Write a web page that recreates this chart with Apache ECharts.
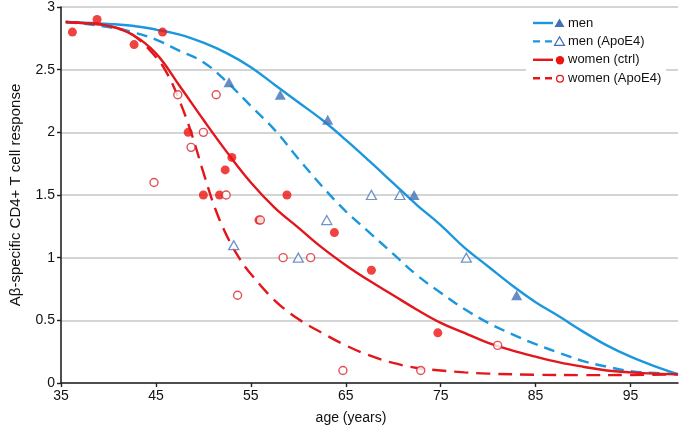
<!DOCTYPE html>
<html>
<head>
<meta charset="utf-8">
<style>html,body{margin:0;padding:0;background:#fff}#c{width:685px;height:427px}</style>
<script src="https://cdn.jsdelivr.net/npm/echarts@6/dist/echarts.min.js"></script>
</head>
<body>
<div id="c"></div>
<script>
// ---- data ----
const xTicks = [35, 45, 55, 65, 75, 85, 95];
const yTicks = [0, 0.5, 1, 1.5, 2, 2.5, 3];
const legendNames = ['men', 'men (ApoE4)', 'women (ctrl)', 'women (ApoE4)'];

const menPts = [[52.7,2.4],[58.1,2.3],[63.1,2.1],[72.2,1.5],[83.0,0.7]];
const menApoPts = [[53.2,1.1],[60.0,1.0],[63.0,1.3],[67.7,1.5],[70.7,1.5],[77.7,1.0]];
const womenPts = [[36.2,2.8],[38.8,2.9],[42.7,2.7],[45.7,2.8],[48.4,2.0],[50.0,1.5],[51.7,1.5],[52.3,1.7],[53.0,1.8],[55.85,1.3],[58.8,1.5],[63.8,1.2],[67.7,0.9],[74.7,0.4]];
const womenApoPts = [[44.8,1.6],[47.3,2.3],[48.7,1.88],[50.0,2.0],[51.35,2.3],[52.4,1.5],[53.6,0.7],[56.0,1.3],[58.4,1.0],[61.3,1.0],[64.7,0.1],[72.9,0.1],[81.0,0.3]];

// fitted curves, values
const menCurve = [[35.5,2.88],[37.5,2.875],[40,2.865],[42.5,2.85],[45,2.82],[47.5,2.78],[50,2.715],[52.5,2.63],[55,2.52],[57.5,2.38],[60,2.24],[62.5,2.1],[65,1.94],[67.5,1.77],[70,1.595],[72.5,1.42],[75,1.26],[77.5,1.08],[80,0.93],[82.5,0.78],[85,0.645],[87.5,0.53],[90,0.41],[92.5,0.3],[95,0.21],[97.5,0.135],[100,0.07]];
const menApoCurve = [[35.5,2.88],[37.5,2.865],[40,2.84],[42.5,2.8],[45,2.74],[47.5,2.65],[50,2.56],[52.5,2.4],[55,2.21],[57.5,2.02],[60,1.79],[62.5,1.57],[65,1.37],[67.5,1.2],[70,1.03],[72.5,0.86],[75,0.72],[77.5,0.59],[80,0.48],[82.5,0.39],[85,0.31],[87.5,0.24],[90,0.175],[92.5,0.13],[95,0.095],[97.5,0.08],[100,0.07]];
const womenCurve = [[35.5,2.88],[37.5,2.87],[40,2.85],[42.5,2.78],[45,2.63],[47.5,2.37],[50,2.1],[52.5,1.84],[55,1.6],[57.5,1.4],[60,1.24],[62.5,1.08],[65,0.94],[67.5,0.815],[70,0.7],[72.5,0.585],[75,0.48],[77.5,0.4],[80,0.32],[82.5,0.26],[85,0.21],[87.5,0.165],[90,0.13],[92.5,0.1],[95,0.085],[97.5,0.075],[100,0.07]];
const womenApoCurve = [[35.5,2.88],[37.5,2.87],[40,2.85],[42.5,2.78],[45,2.6],[46.25,2.46],[47.5,2.25],[48.75,1.99],[50,1.68],[51.25,1.39],[52.5,1.17],[53.75,1.0],[55,0.87],[57.5,0.66],[60,0.51],[62.5,0.4],[65,0.3],[67.5,0.22],[70,0.16],[72.5,0.12],[75,0.1],[77.5,0.085],[80,0.075],[85,0.066],[90,0.063],[95,0.064],[100,0.07]];

// ---- styles ----
const BLUE = '#1b97de', TRI = '#4170b8', RED = '#e3161c', DOT = '#ee1313';
const FONT = 'Liberation Sans, Arial, Helvetica, sans-serif';
const TRIANGLE = 'path://M0,10 L5.774,0 L11.547,10 Z';

const chart = echarts.init(document.getElementById('c'), null, {renderer: 'canvas'});

function curve(name, data, color, dash) {
  return {
    name, type: 'line', data, showSymbol: false, symbol: 'none',
    smooth: 0.4, silent: true, z: 2,
    lineStyle: {color, width: 2.4, type: dash || 'solid'}
  };
}

const lx = 533, ly0 = 23, ldy = 18.4;
const legendGraphic = [{
  type: 'rect', shape: {x: 526, y: 12, width: 140, height: 80},
  style: {fill: '#fff'}, z: 5
}];
const legendStyles = [
  {color: BLUE, dash: null, marker: 'tri', fill: TRI},
  {color: BLUE, dash: [7, 5], marker: 'tri', fill: null},
  {color: RED, dash: null, marker: 'circ', fill: DOT},
  {color: RED, dash: [7, 5], marker: 'circ', fill: null}
];
legendNames.forEach((n, i) => {
  const y = ly0 + i * ldy, s = legendStyles[i];
  legendGraphic.push({type: 'line', shape: {x1: lx, y1: y, x2: lx + 20, y2: y},
    style: {stroke: s.color, lineWidth: 2.4, lineDash: s.dash || null}, z: 6});
  if (s.marker === 'tri') {
    legendGraphic.push({type: 'polygon', shape: {points: [[559.5, y - 4.5], [564.5, y + 4], [554.5, y + 4]]},
      style: s.fill ? {fill: s.fill} : {fill: '#fff', stroke: TRI, lineWidth: 1.2}, z: 6});
  } else {
    legendGraphic.push({type: 'circle', shape: {cx: 560, cy: y + 0.5, r: s.fill ? 4.2 : 3.4},
      style: s.fill ? {fill: s.fill} : {fill: '#fff', stroke: RED, lineWidth: 1.3}, z: 6});
  }
  legendGraphic.push({type: 'text', x: 568, y: y, z: 6,
    style: {text: n, font: '13px ' + FONT, fill: '#111', verticalAlign: 'middle'}});
});
legendGraphic.push({type: 'text', x: 351, y: 418, z: 6,
  style: {text: 'age (years)', font: '14px ' + FONT, fill: '#111', align: 'center', verticalAlign: 'middle'}});

chart.setOption({
  animation: false,
  backgroundColor: '#fff',
  grid: {left: 51, right: 7, top: 7, bottom: 44, containLabel: false},
  xAxis: {
    type: 'value', min: 35, max: 100,
    axisLine: {show: true, onZero: false, lineStyle: {color: '#222', width: 1.6}},
    axisTick: {show: true, length: 4, customValues: xTicks, lineStyle: {color: '#222', width: 1.4}},
    axisLabel: {customValues: xTicks, color: '#111', fontSize: 14, fontFamily: FONT, margin: 6},
    splitLine: {show: false}
  },
  yAxis: {
    type: 'value', min: 0, max: 3, interval: 0.5,
    name: 'A\u03b2-specific CD4+ T cell response', nameLocation: 'middle', nameGap: 38,
    nameTextStyle: {color: '#111', fontSize: 15, fontFamily: FONT},
    axisLine: {show: true, lineStyle: {color: '#222', width: 1.6}},
    axisTick: {show: true, length: 4, lineStyle: {color: '#222', width: 1.4}},
    axisLabel: {color: '#111', fontSize: 14, fontFamily: FONT, margin: 6,
      formatter: v => yTicks.includes(v) ? String(v) : ''},
    splitLine: {show: true, lineStyle: {color: '#c6c6c6', width: 1.5}}
  },
  graphic: legendGraphic,
  series: [
    curve(legendNames[0], menCurve, BLUE),
    curve(legendNames[1], menApoCurve, BLUE, [11, 7]),
    curve(legendNames[2], womenCurve, RED),
    curve(legendNames[3], womenApoCurve, RED, [14, 8]),
    {name: legendNames[0] + ' pts', type: 'scatter', data: menPts, symbol: TRIANGLE, symbolSize: [11, 10],
      itemStyle: {color: TRI}, z: 4},
    {name: legendNames[1] + ' pts', type: 'scatter', data: menApoPts, symbol: TRIANGLE, symbolSize: [10, 9],
      itemStyle: {color: '#fff', borderColor: '#4f78bb', borderWidth: 1.3}, z: 4},
    {name: legendNames[2] + ' pts', type: 'scatter', data: womenPts, symbol: 'circle', symbolSize: 9,
      itemStyle: {color: DOT}, z: 4},
    {name: legendNames[3] + ' pts', type: 'scatter', data: womenApoPts, symbol: 'circle', symbolSize: 8,
      itemStyle: {color: '#fff', borderColor: '#d8262b', borderWidth: 1.4}, z: 4}
  ]
});
</script>
</body>
</html>
